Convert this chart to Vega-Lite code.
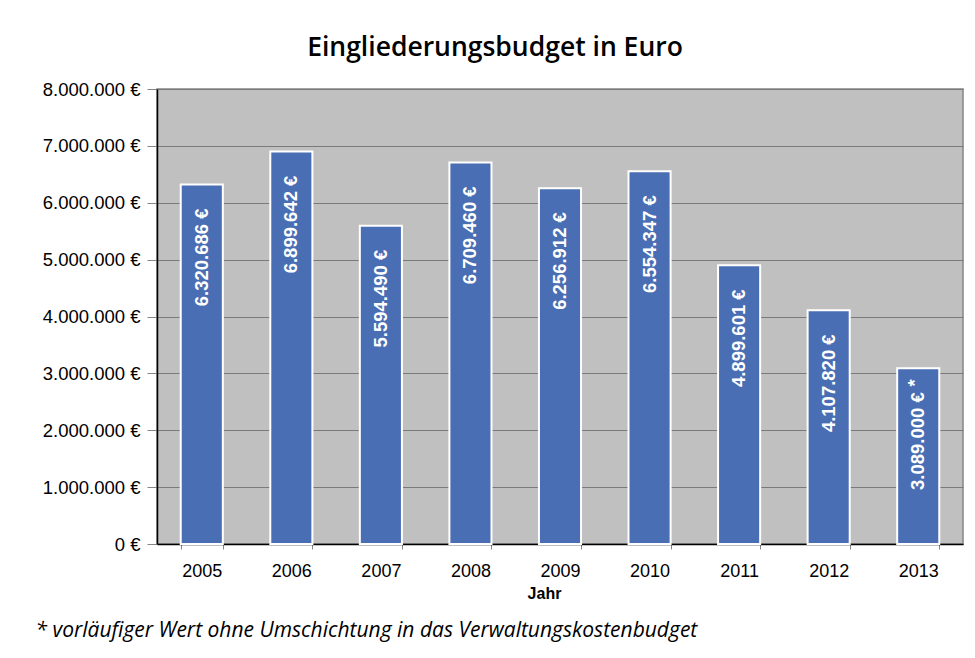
{
  "$schema": "https://vega.github.io/schema/vega-lite/v6.json",
  "autosize": {"type": "none"},
  "padding": {"left": 157, "top": 89, "right": 12, "bottom": 114},
  "width": 806,
  "height": 455,
  "background": "white",
  "config": {
    "locale": {"number": {"decimal": ",", "thousands": ".", "grouping": [3], "currency": ["", " €"]}},
    "view": {"fill": "#c0c0c0", "stroke": "#858585", "strokeWidth": 1.5},
    "font": "Liberation Sans"
  },
  "title": {
    "text": "Eingliederungsbudget in Euro",
    "font": "Open Sans",
    "fontSize": 26.5,
    "fontWeight": 600,
    "color": "#000000",
    "anchor": "middle",
    "dx": -65,
    "offset": 19
  },
  "data": {
    "values": [
      {"Jahr": "2005", "Wert": 6320686, "note": ""},
      {"Jahr": "2006", "Wert": 6899642, "note": ""},
      {"Jahr": "2007", "Wert": 5594490, "note": ""},
      {"Jahr": "2008", "Wert": 6709460, "note": ""},
      {"Jahr": "2009", "Wert": 6256912, "note": ""},
      {"Jahr": "2010", "Wert": 6554347, "note": ""},
      {"Jahr": "2011", "Wert": 4899601, "note": ""},
      {"Jahr": "2012", "Wert": 4107820, "note": ""},
      {"Jahr": "2013", "Wert": 3089000, "note": "*"}
    ]
  },
  "transform": [
    {"calculate": "format(datum.Wert, '$,.0f')", "as": "label"}
  ],
  "encoding": {
    "x": {
      "field": "Jahr",
      "type": "ordinal",
      "scale": {"paddingInner": 0.53, "paddingOuter": 0.265}
    },
    "y": {
      "field": "Wert",
      "type": "quantitative",
      "scale": {"domain": [0, 8000000], "nice": false},
      "axis": {
        "title": null,
        "values": [0, 1000000, 2000000, 3000000, 4000000, 5000000, 6000000, 7000000, 8000000],
        "format": "$,.0f",
        "labelOverlap": false,
        "labelFontSize": 18.5,
        "labelColor": "#000000",
        "labelPadding": 7,
        "tickSize": 10,
        "tickColor": "#858585",
        "domainColor": "#000000",
        "domainWidth": 1.5,
        "gridColor": "#7a7a7a",
        "gridWidth": 1
      }
    }
  },
  "resolve": {"axis": {"x": "independent"}},
  "layer": [
    {
      "mark": {"type": "bar", "color": "#4a6eb3", "stroke": "#ffffff", "strokeWidth": 2},
      "encoding": {
        "x": {
          "field": "Jahr",
          "type": "ordinal",
          "axis": {
            "title": "Jahr",
            "titleFontSize": 16,
            "titleFontWeight": "bold",
            "titleColor": "#000000",
            "titleX": 387,
            "titlePadding": 5,
            "labelAngle": 0,
            "labelFontSize": 18,
            "labelColor": "#000000",
            "labelPadding": 13,
            "tickSize": 5,
            "tickColor": "#858585",
            "tickBand": "extent",
            "domainColor": "#000000",
            "domainWidth": 1.5
          }
        }
      }
    },
    {
      "mark": {
        "type": "text",
        "angle": 270,
        "align": "right",
        "baseline": "middle",
        "dx": -24,
        "color": "#ffffff",
        "fontSize": 18.5,
        "fontWeight": "bold"
      },
      "encoding": {
        "x": {
          "field": "Jahr",
          "type": "ordinal",
          "axis": {
            "orient": "bottom",
            "labels": false,
            "ticks": false,
            "domain": false,
            "grid": false,
            "title": "*  vorläufiger Wert ohne Umschichtung in das Verwaltungskostenbudget",
            "titleFont": "Open Sans",
            "titleFontStyle": "italic",
            "titleFontWeight": "normal",
            "titleFontSize": 21,
            "titleColor": "#000000",
            "titleAlign": "left",
            "titleAnchor": "start",
            "titleBaseline": "middle",
            "titleX": -122,
            "titleY": 86
          }
        },
        "text": {"field": "label", "type": "nominal"}
      }
    },
    {
      "mark": {
        "type": "text",
        "angle": 270,
        "align": "right",
        "baseline": "middle",
        "dx": -11,
        "dy": -3,
        "color": "#ffffff",
        "fontSize": 18.5,
        "fontWeight": "bold"
      },
      "encoding": {
        "x": {"field": "Jahr", "type": "ordinal", "axis": null},
        "text": {"field": "note", "type": "nominal"}
      }
    }
  ]
}
